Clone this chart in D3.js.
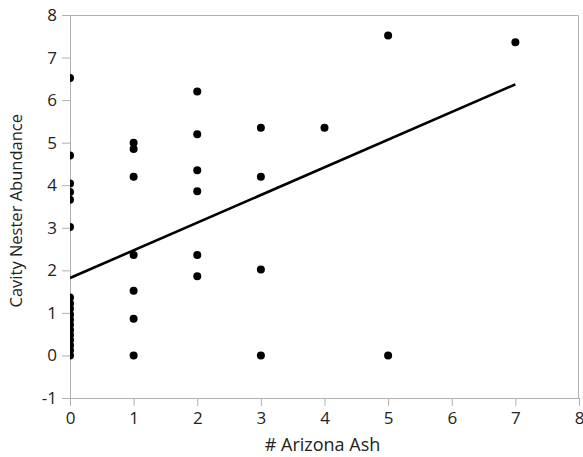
<!DOCTYPE html>
<html>
<head>
<meta charset="utf-8">
<script src="https://cdn.jsdelivr.net/npm/d3@7"></script>
<style>
  body { margin: 0; background: #fff; }
  svg { display: block; }
  .tick text { font-family: "Open Sans", "Noto Sans", sans-serif; font-size: 17px; fill: #222; }
  .axis-title { font-family: "Open Sans", "Noto Sans", sans-serif; fill: #222; }
</style>
</head>
<body>
<svg id="chart" width="583" height="457"></svg>
<script>
// --- data ---
const ashCount = [
  0, 0, 0, 0, 0, 0, 0, 0, 0, 0, 0, 0,
  0, 0, 0, 0, 0, 0,
  1, 1, 1, 1, 1, 1, 1,
  2, 2, 2, 2, 2, 2,
  3, 3, 3, 3,
  4,
  5, 5,
  7
];
const nesterAbundance = [
  0, 0.12, 0.24, 0.36, 0.48, 0.6, 0.72, 0.84, 0.96, 1.1, 1.22, 1.36,
  3.02, 3.66, 3.84, 4.04, 4.7, 6.52,
  5.0, 4.85, 4.2, 2.36, 1.52, 0.86, 0,
  6.2, 5.2, 4.35, 3.86, 2.36, 1.86,
  5.35, 4.2, 2.02, 0,
  5.35,
  7.52, 0,
  7.36
];
// fitted line end points
const fitX = [0, 7];
const fitY = [1.82, 6.37];

const xTicks = [0, 1, 2, 3, 4, 5, 6, 7, 8];
const yTicks = [-1, 0, 1, 2, 3, 4, 5, 6, 7, 8];

const margin = {left: 70, top: 15, right: 4, bottom: 59};
const W = 583, H = 457;
const plotW = W - margin.left - margin.right;
const plotH = H - margin.top - margin.bottom;

const svg = d3.select("#chart");
const g = svg.append("g").attr("transform", `translate(${margin.left},${margin.top})`);

const x = d3.scaleLinear().domain([0, 8]).range([0, plotW]);
const y = d3.scaleLinear().domain([-1, 8]).range([plotH, 0]);

// frame (top + right)
g.append("path")
  .attr("d", `M0,0.5H${plotW - 0.5}V${plotH}`)
  .attr("fill", "none").attr("stroke", "#b0b0b0");

g.append("clipPath").attr("id", "clip")
  .append("rect").attr("x", 0).attr("y", 0).attr("width", plotW).attr("height", plotH);

const plain = d => String(d);   // keep a plain hyphen for "-1"

const xAxis = g.append("g").attr("transform", `translate(0,${plotH})`)
  .call(d3.axisBottom(x).tickValues(xTicks).tickFormat(plain).tickSizeOuter(0).tickSize(8).tickPadding(6));
const yAxis = g.append("g")
  .call(d3.axisLeft(y).tickValues(yTicks).tickFormat(plain).tickSizeOuter(0).tickSize(8).tickPadding(5));
[xAxis, yAxis].forEach(a => {
  a.select(".domain").attr("stroke", "#b0b0b0");
  a.selectAll(".tick line").attr("stroke", "#b0b0b0");
});

const marks = g.append("g").attr("clip-path", "url(#clip)");

marks.selectAll("circle")
  .data(ashCount.map((d, i) => [d, nesterAbundance[i]]))
  .join("circle")
  .attr("cx", d => x(d[0]))
  .attr("cy", d => y(d[1]))
  .attr("r", 4)
  .attr("fill", "#000");

marks.append("path")
  .datum(fitX.map((d, i) => [d, fitY[i]]))
  .attr("d", d3.line().x(d => x(d[0])).y(d => y(d[1])))
  .attr("fill", "none").attr("stroke", "#000").attr("stroke-width", 2.6);

svg.append("text").attr("class", "axis-title")
  .attr("x", margin.left + x(4) - 2).attr("y", 451)
  .style("font-size", "18px")
  .attr("text-anchor", "middle").text("# Arizona Ash");

svg.append("text").attr("class", "axis-title")
  .attr("transform", `translate(22,${margin.top + y(3.4)}) rotate(-90)`)
  .style("font-size", "16.5px")
  .attr("text-anchor", "middle").text("Cavity Nester Abundance");
</script>
</body>
</html>
